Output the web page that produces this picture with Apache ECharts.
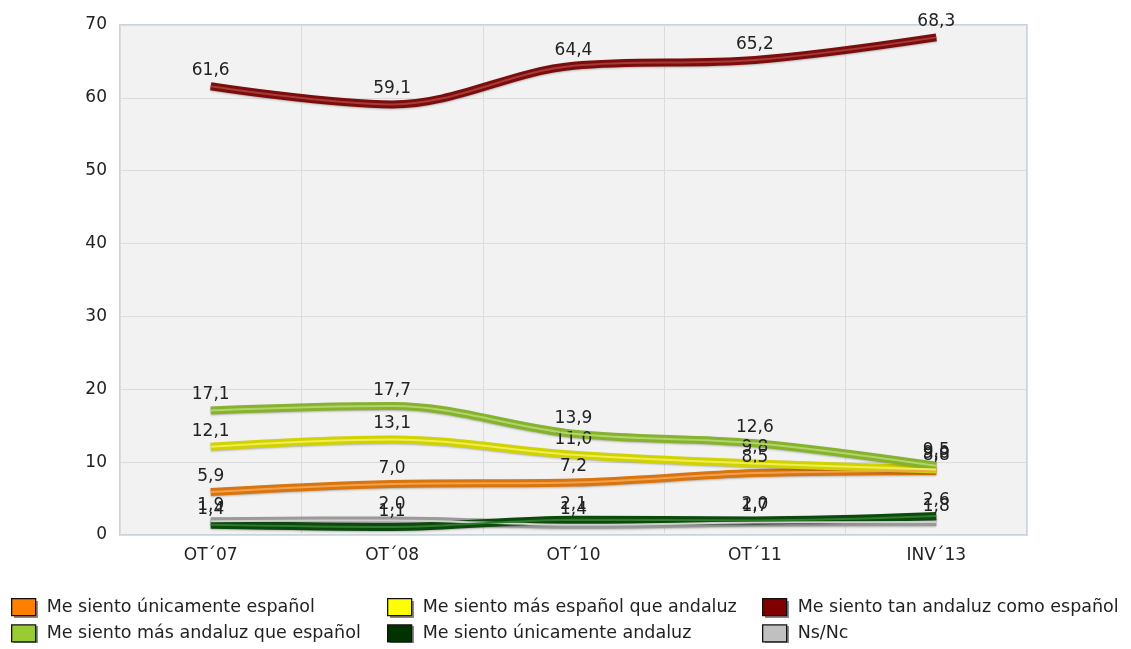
<!DOCTYPE html>
<html><head><meta charset="utf-8">
<script src="https://cdn.jsdelivr.net/npm/echarts@6/dist/echarts.min.js"></script>
<style>html,body{margin:0;padding:0;background:#fff}#c{width:1131px;height:649px}</style>
</head><body><div id="c"></div>
<script>
const categories = ['OT\u00B407', 'OT\u00B408', 'OT\u00B410', 'OT\u00B411', 'INV\u00B413'];
const yTicks = [0, 10, 20, 30, 40, 50, 60, 70];
const seriesNames = ['Me siento únicamente español', 'Me siento más español que andaluz', 'Me siento tan andaluz como español', 'Me siento más andaluz que español', 'Me siento únicamente andaluz', 'Ns/Nc'];
const unicamenteEspanol = [5.9, 7.0, 7.2, 8.5, 8.8];
const masEspanol = [12.1, 13.1, 11.0, 9.8, 9.0];
const tanAndaluz = [61.6, 59.1, 64.4, 65.2, 68.3];
const masAndaluz = [17.1, 17.7, 13.9, 12.6, 9.5];
const unicamenteAndaluz = [1.4, 1.1, 2.1, 2.0, 2.6];
const nsnc = [1.9, 2.0, 1.4, 1.7, 1.8];

const FONT = 'DejaVu Sans';
const dataArr = [unicamenteEspanol, masEspanol, tanAndaluz, masAndaluz, unicamenteAndaluz, nsnc];
const lineCol = ['#d9740f', '#d2d200', '#7b0d0d', '#86b22e', '#0c4a0c', '#9a9a9a'];
const hiCol = ['#f2a24a', '#eeee55', '#a83a3a', '#b1d56a', '#2f7a2f', '#cfcfcf'];
const iconCol = ['#ff8000', '#ffff00', '#800000', '#99cc33', '#003300', '#c0c0c0'];
const fmt = v => v.toFixed(1).replace('.', ',');

const series = [];
const drawOrder = [5, 4, 0, 1, 3, 2];
drawOrder.forEach(i => {
  series.push({
    name: seriesNames[i], type: 'line', data: dataArr[i], smooth: 0.35,
    symbol: 'circle', symbolSize: 0.1, showSymbol: true, z: 2,
    lineStyle: { color: lineCol[i], width: 8, shadowColor: 'rgba(0,0,0,0.25)', shadowBlur: 2, shadowOffsetY: 1 },
    itemStyle: { color: iconCol[i] },
    label: { show: true, position: 'top', distance: 7, offset: [3, 0], formatter: p => fmt(p.value), fontFamily: FONT, fontSize: 17, color: '#222' },
    labelLayout: { hideOverlap: false },
    emphasis: { disabled: true }
  });
  series.push({
    name: seriesNames[i] + '_hi', type: 'line', data: dataArr[i], smooth: 0.35,
    symbol: 'none', silent: true, z: 3,
    lineStyle: { color: hiCol[i], width: 2 },
    emphasis: { disabled: true }, tooltip: { show: false }
  });
});

const legendLefts = [11, 387, 762];
const legendTop = 598, rowGap = 8, iconW = 24, iconH = 17;

function legendCol(names, left) {
  return {
    orient: 'vertical', left: left, top: legendTop, itemGap: rowGap, padding: 0, z: 10,
    itemWidth: iconW, itemHeight: iconH, icon: 'rect', selectedMode: false,
    data: names.map(n => ({ name: n })),
    itemStyle: { borderColor: '#111', borderWidth: 1.3 },
    textStyle: { fontFamily: FONT, fontSize: 17.5, color: '#222', lineHeight: 17, padding: [0, 0, 0, 6] }
  };
}

// decorative drop shadows behind the legend swatches
const shadows = [];
legendLefts.forEach(l => {
  [0, 1].forEach(r => {
    shadows.push({ type: 'rect', z: 1, silent: true,
      shape: { x: l + 3, y: legendTop + r * (iconH + rowGap) + 3, width: iconW, height: iconH },
      style: { fill: '#8a8a8a' } });
  });
});

const chart = echarts.init(document.getElementById('c'));
chart.setOption({
  animation: false,
  grid: { left: 120, right: 104, top: 25, bottom: 114, show: true, backgroundColor: '#f2f2f2', borderColor: '#c9d3dd', borderWidth: 2 },
  legend: [
    legendCol([seriesNames[0], seriesNames[3]], legendLefts[0]),
    legendCol([seriesNames[1], seriesNames[4]], legendLefts[1]),
    legendCol([seriesNames[2], seriesNames[5]], legendLefts[2])
  ],
  graphic: shadows,
  xAxis: {
    type: 'category', data: categories, boundaryGap: true,
    axisLine: { show: false }, axisTick: { show: false },
    splitLine: { show: true, interval: 0, lineStyle: { color: '#dcdcdc', width: 1 } },
    axisLabel: { fontFamily: FONT, fontSize: 17, color: '#222', margin: 12, interval: 0 }
  },
  yAxis: {
    type: 'value', min: yTicks[0], max: yTicks[yTicks.length - 1], interval: 10,
    axisLine: { show: false }, axisTick: { show: false },
    splitLine: { lineStyle: { color: '#dcdcdc', width: 1 } },
    axisLabel: { fontFamily: FONT, fontSize: 17, color: '#222', margin: 13 }
  },
  series: series
});
</script></body></html>
